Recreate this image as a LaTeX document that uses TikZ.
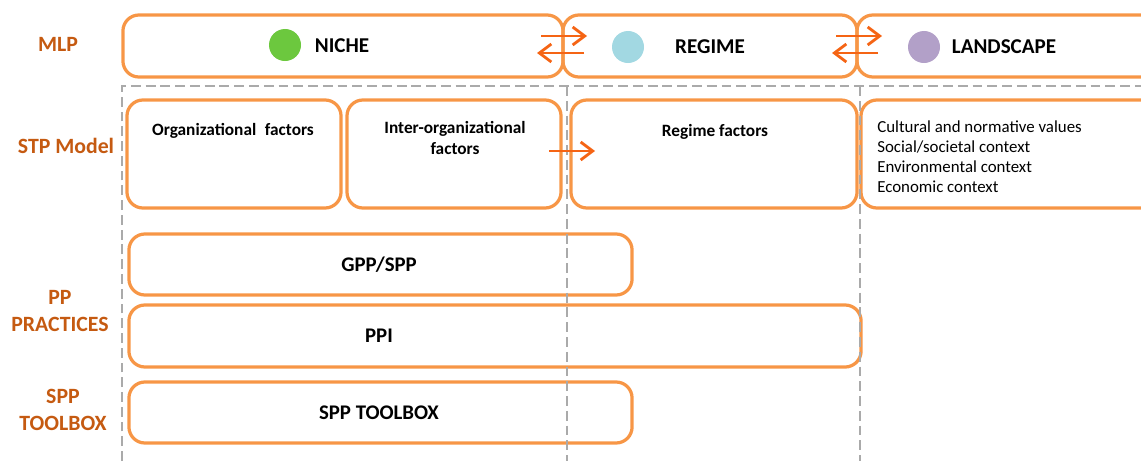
\documentclass[tikz,border=0pt]{standalone}
\usepackage{fontspec}
\setmainfont{Carlito}
\usetikzlibrary{arrows.meta}
\definecolor{boxorange}{RGB}{247,150,70}
\definecolor{arroworange}{RGB}{245,100,20}
\definecolor{labelbrown}{RGB}{197,90,17}
\definecolor{nichegreen}{RGB}{108,200,62}
\definecolor{regimeblue}{RGB}{162,216,226}
\definecolor{landpurple}{RGB}{178,160,200}
\definecolor{dividergray}{RGB}{170,170,170}
\begin{document}
\begin{tikzpicture}[x=0.025cm,y=-0.025cm,
    box/.style={draw=boxorange,line width=2.3pt,rounded corners=0.4cm,inner sep=0pt},
    layer/.style={font=\bfseries\fontsize{15.5}{19}\selectfont,text=labelbrown,align=center},
    title/.style={font=\bfseries\fontsize{15}{18}\selectfont},
    factor/.style={font=\bfseries\fontsize{12.3}{15}\selectfont,align=center},
    practice/.style={font=\bfseries\fontsize{14.8}{17}\selectfont},
    flow/.style={draw=arroworange,line width=2pt,-{Straight Barb[length=3mm,width=4.5mm]}},
    divider/.style={draw=dividergray,line width=1.7pt,dash pattern=on 7pt off 3.5pt},
    dot/.style={circle,inner sep=0pt,minimum size=0.8cm}]
    \clip (0,0) rectangle (1141,461);
    %% MLP row
    \node[box,minimum width=11cm,minimum height=1.55cm] (niche) at (343,46) {};
    \node[box,minimum width=7.35cm,minimum height=1.55cm] (regime) at (710,46) {};
    \node[box,minimum width=7.7cm,minimum height=1.55cm] (landscape) at (1011,46) {};
    %% STP row
    \node[box,minimum width=5.35cm,minimum height=2.7cm] (orgbox) at (234,154) {};
    \node[box,minimum width=5.35cm,minimum height=2.7cm] (interbox) at (454,154) {};
    \node[box,minimum width=7.15cm,minimum height=2.7cm] (regfacbox) at (714,154) {};
    \node[box,minimum width=7.6cm,minimum height=2.7cm] (landfacbox) at (1013,154) {};
    %% Practices and toolbox
    \node[box,minimum width=12.575cm,minimum height=1.525cm] (gppbox) at (380.5,264.5) {};
    \node[box,minimum width=18.3cm,minimum height=1.55cm] (ppibox) at (495,336) {};
    \node[box,minimum width=12.575cm,minimum height=1.525cm] (toolbox) at (380.5,412.5) {};
    %% Dashed dividers
    \draw[divider] (122,461) -- (122,86) -- (1141,86);
    \draw[divider] (567,86) -- (567,461);
    \draw[divider] (860,86) -- (860,461);
    %% Arrows
    \coordinate (nrA) at (541,36);
    \coordinate (nrB) at (587,36);
    \coordinate (rnA) at (584,53);
    \coordinate (rnB) at (537,53);
    \coordinate (rlA) at (836,36);
    \coordinate (rlB) at (882,36);
    \coordinate (lrA) at (878,53);
    \coordinate (lrB) at (832,53);
    \coordinate (stpA) at (549,151);
    \coordinate (stpB) at (595,151);
    \draw[flow] (nrA) -- (nrB);
    \draw[flow] (rnA) -- (rnB);
    \draw[flow] (rlA) -- (rlB);
    \draw[flow] (lrA) -- (lrB);
    \draw[flow] (stpA) -- (stpB);
    %% Layer labels
    \node[layer] (mlp) at (58,44) {MLP};
    \node[layer] (stp) at (66,146) {STP Model};
    \node[layer] (pp) at (60,311) {PP\\PRACTICES};
    \node[layer] (spp) at (63,410) {SPP\\TOOLBOX};
    %% Titles
    \node[dot,fill=nichegreen] (nichedot) at (285,45) {};
    \node[title] (nichetext) at (342,46) {NICHE};
    \node[dot,fill=regimeblue] (regimedot) at (628,47) {};
    \node[title] (regimetext) at (710,47) {REGIME};
    \node[dot,fill=landpurple] (landdot) at (924,47) {};
    \node[title] (landtext) at (1004,47) {LANDSCAPE};
    %% Factors
    \node[factor] (orgtext) at (233,131) {Organizational\enspace factors};
    \node[factor] (intertext) at (455,138) {Inter-organizational\\factors};
    \node[factor] (regfactext) at (715,132) {Regime factors};
    \node[font=\fontsize{12}{14.2}\selectfont,align=left,anchor=west,inner sep=0pt] (landlist) at (877,157)
        {Cultural and normative values\\Social/societal context\\Environmental context\\Economic context};
    %% Practices
    \node[practice] (gpptext) at (379,265) {GPP/SPP};
    \node[practice] (ppitext) at (379,336) {PPI};
    \node[practice] (tooltext) at (379,413) {SPP TOOLBOX};
\end{tikzpicture}
\end{document}
